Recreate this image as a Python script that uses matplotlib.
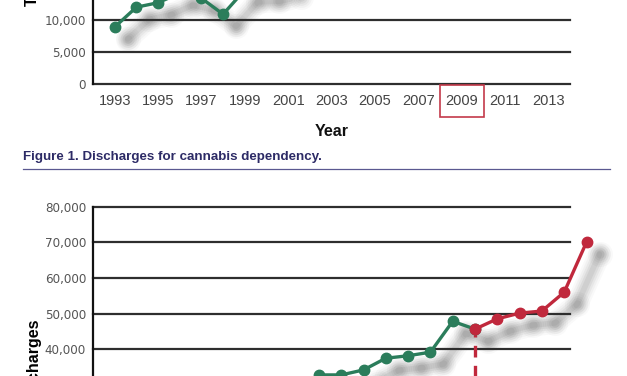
import matplotlib
matplotlib.use("Agg")
import matplotlib.pyplot as plt
import matplotlib.transforms as mtransforms
from matplotlib.patches import Rectangle
from matplotlib.lines import Line2D
from matplotlib import font_manager

# ---- data ----
years1 = [1993, 1994, 1995, 1996, 1997, 1998, 1999, 2000, 2001]
values1 = [8900, 12000, 12700, 14200, 13400, 10900, 14700, 14800, 15500]
xticks1 = list(range(1993, 2014, 2))
yticks1 = [0, 5000, 10000, 15000, 20000]

years2_green = [2002, 2003, 2004, 2005, 2006, 2007, 2008, 2009]
values2_green = [32700, 32700, 34100, 37400, 38100, 39100, 47800, 45600]
years2_red = [2009, 2010, 2011, 2012, 2013, 2014]
values2_red = [45600, 48500, 50100, 50700, 56000, 70100]
yticks2 = [0, 10000, 20000, 30000, 40000, 50000, 60000, 70000, 80000]

caption = "Figure 1. Discharges for cannabis dependency."

W, H = 627, 376
fig = plt.figure(figsize=(W / 100, H / 100), dpi=100)
fig.patch.set_facecolor("white")

GREEN = "#2b7d5b"
RED = "#c0283c"
GRID = "#2e2e2e"
SANS = ["Liberation Sans", "DejaVu Sans"]

# pick a narrow font for the y tick labels if one exists
names = {f.name for f in font_manager.fontManager.ttflist}
if "Liberation Sans Narrow" in names:
    YFONT = dict(family=["Liberation Sans Narrow", "DejaVu Sans"], fontsize=9.5)
else:
    cond = [f for f in font_manager.fontManager.ttflist
            if f.name == "DejaVu Sans" and "Condensed" in f.fname
            and "Bold" not in f.fname and "Oblique" not in f.fname]
    if cond:
        YFONT = dict(fontproperties=font_manager.FontProperties(fname=cond[0].fname, size=9.5))
    else:
        YFONT = dict(family=SANS, fontsize=8.6)


def rect(left, right, top, bottom):
    return [left / W, 1 - bottom / H, (right - left) / W, (bottom - top) / H]


def shadow(ax, xs, ys):
    off = mtransforms.ScaledTranslation(13 / 100, -12 / 100, fig.dpi_scale_trans)
    tr = ax.transData + off
    for lw, ms, a in [(16, 18, 0.04), (13, 15, 0.05), (10, 12, 0.07),
                      (7, 9, 0.09), (4, 6, 0.10)]:
        ax.plot(xs, ys, color="#666666", lw=lw, alpha=a, marker="o", ms=ms,
                mec="none", transform=tr, clip_on=False, zorder=1,
                solid_capstyle="round", solid_joinstyle="round")


def frame(ax, yticks, ylim, xlim):
    ax.set_xlim(*xlim)
    ax.set_ylim(*ylim)
    for s in ["top", "right", "bottom"]:
        ax.spines[s].set_visible(False)
    ax.spines["left"].set_linewidth(1.6)
    ax.spines["left"].set_color("#111111")
    for v in yticks:
        ax.axhline(v, color=GRID, lw=1.6, clip_on=False, zorder=2)
    ax.set_yticks(yticks)
    ax.set_yticklabels([f"{v:,}" for v in yticks], color="#555555", **YFONT)
    ax.tick_params(axis="y", length=0, pad=5)
    ax.patch.set_alpha(0)


# ---- chart 1 (bottom part of the upper figure) ----
ax1 = fig.add_axes(rect(93, 570, -44, 84))
frame(ax1, yticks1, (0, 20000), (1992, 2014))
ax1.set_xticks(xticks1)
ax1.set_xticklabels([str(x) for x in xticks1], family=SANS, fontsize=10.5,
                    color="#444444")
ax1.tick_params(axis="x", length=0, pad=7)
shadow(ax1, years1, values1)
ax1.plot(years1, values1, color=GREEN, lw=2.4, marker="o", ms=7.5, zorder=4,
         clip_on=False)

fig.text(33 / W, 1 - 6 / H, "Total discharges", rotation=90, ha="center",
         va="bottom", family=SANS, fontweight="bold", fontsize=11.5)
fig.text(332 / W, 1 - 132 / H, "Year", ha="center", va="center", family=SANS,
         fontweight="bold", fontsize=11.5, color="#111111")
fig.add_artist(Rectangle((440 / W, 1 - 117 / H), 44 / W, 32 / H,
                         transform=fig.transFigure, fill=False,
                         ec="#c33a4a", lw=1.2))

# caption
fig.text(23 / W, 1 - 157 / H, caption, ha="left", va="center", family=SANS,
         fontweight="bold", fontsize=9.6, color="#2d2b66")
fig.add_artist(Line2D([23 / W, 610 / W], [1 - 169 / H, 1 - 169 / H],
                      transform=fig.transFigure, color="#5a5890", lw=0.9))

# ---- chart 2 (top part of the lower figure) ----
ax2 = fig.add_axes(rect(93, 570, 207, 491))
frame(ax2, yticks2, (0, 80000), (1991.87, 2013.26))
ax2.set_xticks([])
shadow(ax2, years2_green + years2_red[1:], values2_green + values2_red[1:])
ax2.plot([2009, 2009], [0, values2_red[0]], color=RED, lw=2.4,
         dashes=(3.5, 2.5), zorder=3, clip_on=False)
ax2.plot(years2_green, values2_green, color=GREEN, lw=2.4, marker="o", ms=7.5,
         zorder=4, clip_on=False)
ax2.plot(years2_red, values2_red, color=RED, lw=2.4, marker="o", ms=7.5,
         zorder=5, clip_on=False)

fig.text(33 / W, 1 - 317 / H, "Discharges", rotation=90, ha="center",
         va="top", family=SANS, fontweight="bold", fontsize=11.5)

fig.savefig("out.png", dpi=100)
